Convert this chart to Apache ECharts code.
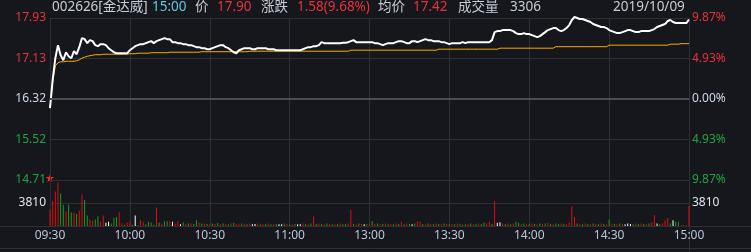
<!DOCTYPE html>
<html><head><meta charset="utf-8">
<script src="https://cdn.jsdelivr.net/npm/echarts@6/dist/echarts.min.js"></script>
<style>html,body{margin:0;padding:0;background:#15171d;}#c{width:751px;height:252px;}</style>
</head><body><div id="c"></div>
<script>
// ---------- data ----------
const prevClose = 16.32;
const priceMin = 14.71, priceMax = 17.93;
const priceTicks = ['14.71','15.52','16.32','17.13','17.93'];
const pctTicks = ['9.87%','4.93%','0.00%','4.93%','9.87%'];
const volMax = 7620, volTick = 3810;
const xTickLabels = ['09:30','10:00','10:30','11:00','13:00','13:30','14:00','14:30','15:00'];
const header = {code:'002626[金达威]', time:'15:00', priceLabel:'价', price:'17.90', chgLabel:'涨跌', chg:'1.58(9.68%)', avgLabel:'均价', avg:'17.42', volLabel:'成交量', vol:'3306', date:'2019/10/09'};

const price = [
16.14,16.70,17.13,17.39,17.19,17.09,17.25,17.17,17.13,17.27,
17.21,17.35,17.53,17.51,17.43,17.49,17.47,17.39,17.37,17.41,
17.41,17.39,17.33,17.29,17.25,17.23,17.23,17.23,17.23,17.23,
17.29,17.33,17.37,17.39,17.41,17.41,17.43,17.45,17.47,17.43,
17.47,17.49,17.51,17.53,17.51,17.51,17.45,17.45,17.43,17.43,
17.41,17.41,17.39,17.39,17.37,17.35,17.35,17.33,17.33,17.31,
17.31,17.33,17.35,17.37,17.39,17.39,17.35,17.33,17.29,17.25,
17.23,17.29,17.31,17.33,17.33,17.33,17.31,17.31,17.33,17.33,
17.33,17.33,17.31,17.31,17.31,17.29,17.29,17.29,17.29,17.29,
17.29,17.29,17.29,17.29,17.29,17.31,17.33,17.35,17.35,17.37,
17.37,17.39,17.45,17.43,17.43,17.43,17.43,17.43,17.43,17.43,
17.44,17.44,17.45,17.47,17.49,17.45,17.45,17.45,17.45,17.45,
17.45,17.45,17.43,17.43,17.41,17.39,17.41,17.43,17.43,17.43,
17.45,17.47,17.47,17.45,17.43,17.43,17.47,17.47,17.45,17.47,
17.49,17.51,17.49,17.49,17.47,17.47,17.47,17.45,17.45,17.43,
17.41,17.43,17.43,17.43,17.43,17.45,17.43,17.45,17.45,17.45,
17.45,17.45,17.45,17.45,17.45,17.45,17.49,17.65,17.67,17.67,
17.69,17.69,17.69,17.69,17.67,17.63,17.61,17.61,17.63,17.61,
17.61,17.59,17.57,17.55,17.57,17.61,17.65,17.69,17.71,17.73,
17.73,17.69,17.67,17.69,17.73,17.79,17.89,17.95,17.93,17.91,
17.91,17.89,17.87,17.85,17.81,17.79,17.77,17.75,17.75,17.73,
17.69,17.67,17.65,17.63,17.63,17.65,17.67,17.69,17.69,17.67,
17.65,17.65,17.67,17.67,17.67,17.67,17.69,17.71,17.75,17.77,
17.79,17.81,17.87,17.89,17.85,17.83,17.83,17.83,17.83,17.83,
17.90];

const avgPrice = [
16.14,16.66,16.98,17.04,17.06,17.06,17.07,17.07,17.07,17.07,
17.08,17.10,17.13,17.15,17.17,17.18,17.19,17.20,17.20,17.20,
17.21,17.21,17.21,17.21,17.21,17.21,17.21,17.21,17.21,17.21,
17.22,17.22,17.22,17.23,17.23,17.23,17.23,17.23,17.24,17.24,
17.24,17.24,17.24,17.24,17.24,17.25,17.25,17.25,17.25,17.25,
17.25,17.25,17.25,17.25,17.25,17.25,17.25,17.26,17.26,17.26,
17.26,17.26,17.26,17.26,17.26,17.26,17.26,17.26,17.26,17.26,
17.26,17.26,17.26,17.26,17.26,17.27,17.27,17.27,17.27,17.27,
17.27,17.27,17.27,17.27,17.27,17.27,17.27,17.27,17.27,17.27,
17.27,17.27,17.27,17.27,17.27,17.27,17.27,17.27,17.27,17.27,
17.27,17.27,17.27,17.27,17.27,17.27,17.27,17.27,17.27,17.27,
17.27,17.27,17.27,17.29,17.29,17.29,17.29,17.29,17.29,17.29,
17.29,17.29,17.29,17.29,17.29,17.29,17.29,17.29,17.29,17.29,
17.29,17.29,17.29,17.29,17.29,17.29,17.29,17.29,17.29,17.29,
17.29,17.29,17.29,17.29,17.29,17.29,17.31,17.31,17.31,17.31,
17.31,17.31,17.31,17.31,17.31,17.31,17.31,17.31,17.31,17.31,
17.31,17.31,17.31,17.31,17.31,17.31,17.31,17.31,17.31,17.33,
17.33,17.33,17.33,17.33,17.33,17.33,17.33,17.33,17.33,17.33,
17.33,17.33,17.33,17.33,17.33,17.33,17.33,17.33,17.33,17.33,
17.36,17.36,17.36,17.36,17.36,17.36,17.36,17.36,17.36,17.36,
17.36,17.36,17.36,17.36,17.36,17.36,17.36,17.36,17.36,17.36,
17.39,17.39,17.39,17.39,17.39,17.39,17.39,17.39,17.39,17.39,
17.39,17.39,17.39,17.39,17.39,17.39,17.39,17.39,17.39,17.39,
17.39,17.39,17.39,17.41,17.41,17.41,17.41,17.42,17.42,17.42,
17.42];

const volume = [
2700,4130,5700,7200,5400,3500,2400,3500,2250,2250,
2000,2540,5200,4300,1750,1060,850,1060,1590,690,
1750,530,690,420,1380,1480,2270,420,200,530,
690,200,1750,100,1000,690,300,690,600,200,
3060,530,420,790,790,690,690,420,790,300,
640,350,420,420,350,950,530,420,380,350,
300,
420,350,500,300,420,350,280,420,500,350,
300,420,350,280,420,300,350,420,300,280,
350,420,300,280,350,300,280,420,350,300,
280,350,300,280,420,350,300,420,1590,350,
420,350,300,420,350,300,280,350,420,300,
350,420,2700,350,300,420,350,300,280,420,
840,350,420,300,350,420,300,350,280,420,
350,690,300,420,350,300,420,790,690,350,
300,420,350,300,420,350,280,420,350,300,
350,300,420,350,280,300,350,420,300,350,
420,350,530,420,690,350,4130,530,640,420,
350,420,300,420,690,530,350,420,300,350,
420,350,300,420,350,420,530,350,300,420,
350,420,350,300,530,3220,1480,420,350,300,
420,350,300,420,350,300,420,350,300,1060,
420,350,300,420,350,300,420,350,300,420,
350,420,350,300,420,640,1800,420,350,420,
950,1320,420,950,690,690,100,100,100,3306];

// tick direction of each minute: 1 up, -1 down, 0 unchanged
const volDir = [
1,1,1,1,-1,-1,1,-1,-1,1,
-1,1,1,-1,-1,1,1,-1,-1,1,
1,0,0,-1,-1,-1,1,1,-1,1,
1,-1,0,-1,1,1,-1,-1,-1,-1,
1,-1,1,-1,-1,1,0,1,1,0,
-1,1,-1,1,-1,-1,1,-1,1,-1,
1,
-1,1,-1,1,-1,1,-1,1,-1,1,
1,-1,1,-1,1,0,0,1,-1,1,
-1,1,-1,1,-1,0,0,-1,1,-1,
1,-1,0,0,1,-1,1,-1,1,-1,
1,-1,1,-1,1,-1,1,-1,1,-1,
-1,1,1,-1,1,-1,1,0,-1,1,
-1,1,-1,1,-1,1,-1,1,-1,1,
-1,1,-1,1,-1,0,-1,1,1,-1,
1,-1,1,-1,1,-1,1,-1,1,-1,
1,-1,1,-1,1,-1,1,-1,1,-1,
1,-1,-1,1,1,-1,1,0,0,1,
-1,1,-1,1,-1,-1,1,-1,1,-1,
1,-1,1,-1,1,-1,1,-1,1,-1,
-1,1,-1,1,1,1,1,-1,1,-1,
1,-1,1,-1,1,-1,1,-1,1,-1,
1,-1,1,-1,1,0,0,0,-1,1,
-1,1,-1,1,-1,1,1,0,-1,1,
1,1,-1,0,-1,-1,1,-1,1,1];

// category labels (minutes)
const times = [];
(function(){
  function fmt(h,m){return (h<10?'0':'')+h+':'+(m<10?'0':'')+m;}
  for(let t=9*60+30;t<=11*60+30;t++) times.push(fmt(Math.floor(t/60),t%60));
  for(let t=13*60+1;t<=15*60;t++) times.push(fmt(Math.floor(t/60),t%60));
})();

// ---------- style ----------
const C = {bg:'#15171d', grid:'#2d2f35', mid:'#4b4d53', text:'#c6ccd6', axisTxt:'#cdd6e4',
  red:'#e8323c', green:'#21a340', cyan:'#5ccbe0', line:'#ffffff', avg:'#ffb000',
  barRed:'#e00d0d', barGreen:'#1c9a22', barWhite:'#ffffff'};
const L = 50, R = 689, W = 751;
const FONT = '"Noto Sans", "Noto Sans CJK SC", sans-serif';

function priceColor(v){ if (Math.abs(v-prevClose)<0.01) return C.axisTxt; return v>prevClose?C.red:C.green; }
function tickIdx(v){ return Math.round((v-priceMin)/((priceMax-priceMin)/4)); }

const chart = echarts.init(document.getElementById('c'), null, {renderer:'canvas'});
const hdr = [
  [52, header.code, C.text],[152, header.time, C.cyan],[195, header.priceLabel, C.text],
  [217, header.price, C.red],[261, header.chgLabel, C.text],[297, header.chg, C.red],
  [378, header.avgLabel, C.text],[413, header.avg, C.red],[458, header.volLabel, C.text],
  [510, header.vol, C.text],[613, header.date, C.text]
];
const graphics = hdr.map(h=>({type:'text', left:h[0], top:0.5, silent:true,
  style:{text:h[1], fill:h[2], font:'13.5px '+FONT}}));
graphics.push({type:'line', silent:true, shape:{x1:0,y1:226.5,x2:W,y2:226.5}, style:{stroke:C.grid,lineWidth:1}});
graphics.push({type:'line', silent:true, shape:{x1:0,y1:248.5,x2:W,y2:248.5}, style:{stroke:C.grid,lineWidth:1}});
graphics.push({type:'line', silent:true, shape:{x1:R+0.5,y1:226,x2:R+0.5,y2:252}, style:{stroke:C.grid,lineWidth:1}});
graphics.push({type:'text', left:45, top:174, silent:true, style:{text:'★', fill:'#ff2a2a', font:'11px "DejaVu Sans"'}});

const xCommon = {type:'category', data:times, boundaryGap:false,
  axisLine:{show:false}, axisTick:{show:false},
  splitLine:{show:true, interval:(i)=>i%30===0, lineStyle:{color:C.grid,width:1}}};

chart.setOption({
  backgroundColor:C.bg,
  animation:false,
  graphic:graphics,
  grid:[
    {left:L, right:W-R, top:18, height:162},
    {left:L, right:W-R, top:180, height:46}
  ],
  xAxis:[
    Object.assign({gridIndex:0, axisLabel:{show:false}}, xCommon),
    Object.assign({gridIndex:1, axisLabel:{show:true, interval:(i)=>i%30===0, margin:4,
      color:'#bcc6d6', fontSize:12, fontFamily:FONT,
      formatter:(v,i)=>xTickLabels[Math.round(i/30)]}}, xCommon)
  ],
  yAxis:[
    {gridIndex:0, type:'value', min:priceMin, max:priceMax, interval:(priceMax-priceMin)/4,
      axisLine:{show:false}, axisTick:{show:false},
      splitLine:{show:true, lineStyle:{color:C.grid}},
      axisLabel:{margin:4, fontSize:12, fontFamily:FONT,
        formatter:(v)=>priceTicks[tickIdx(v)], color:(v)=>priceColor(v)}},
    {gridIndex:0, type:'value', position:'right', min:priceMin, max:priceMax, interval:(priceMax-priceMin)/4,
      axisLine:{show:false}, axisTick:{show:false}, splitLine:{show:false},
      axisLabel:{margin:3, fontSize:12, fontFamily:FONT,
        formatter:(v)=>pctTicks[4-tickIdx(v)], color:(v)=>priceColor(v)}},
    {gridIndex:1, type:'value', min:0, max:volMax, interval:volTick,
      axisLine:{show:false}, axisTick:{show:false},
      splitLine:{show:true, lineStyle:{color:C.grid}},
      axisLabel:{margin:4, fontSize:12, fontFamily:FONT, color:'#dfe5ee',
        formatter:(v)=>(v===volTick?String(volTick):'')}},
    {gridIndex:1, type:'value', position:'right', min:0, max:volMax, interval:volTick,
      axisLine:{show:false}, axisTick:{show:false}, splitLine:{show:false},
      axisLabel:{margin:3, fontSize:12, fontFamily:FONT, color:'#dfe5ee',
        formatter:(v)=>(v===volTick?String(volTick):'')}}
  ],
  series:[
    {type:'bar', xAxisIndex:1, yAxisIndex:2, data:volume, barWidth:1, silent:true,
      itemStyle:{color:(p)=>volDir[p.dataIndex]>0?C.barRed:(volDir[p.dataIndex]<0?C.barGreen:C.barWhite)}},
    {type:'line', xAxisIndex:0, yAxisIndex:0, data:avgPrice, showSymbol:false, silent:true, clip:false,
      lineStyle:{color:C.avg, width:1}},
    {type:'line', xAxisIndex:0, yAxisIndex:0, data:price, showSymbol:false, silent:true, clip:false,
      lineStyle:{color:C.line, width:2},
      markLine:{silent:true, symbol:'none', label:{show:false},
        lineStyle:{color:C.mid, width:2, type:'solid'}, data:[{yAxis:prevClose}]}}
  ]
});
</script></body></html>
